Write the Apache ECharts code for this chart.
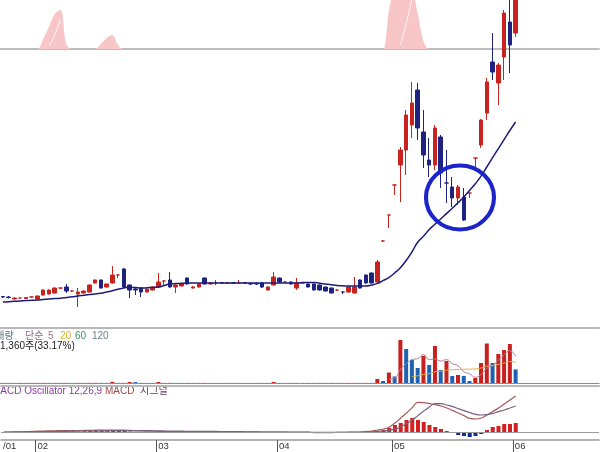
<!DOCTYPE html>
<html>
<head>
<meta charset="utf-8">
<script src="https://cdn.jsdelivr.net/npm/echarts@6.0.0/dist/echarts.min.js"></script>
<style>
html,body{margin:0;padding:0;background:#ffffff;overflow:hidden}
#chart{width:600px;height:452px}
</style>
</head>
<body>
<div id="chart"></div>
<script>
// ---------------- data ----------------
const monthLabels = ['/01', '02', '03', '04', '05', '06'];
const monthStart = [0, 6, 27, 48, 68, 89];
const slotCount = 104;
const categories = Array.from({length: slotCount}, (_, i) => 'D' + (i + 1));

const openP = [315,310,290,300,295,310,290,330,340,350,
 400,410,370,340,350,360,450,480,410,450,
 530,590,430,390,400,360,380,410,470,480,
 410,420,500,400,410,500,440,450,455,450,
 455,450,455,445,445,450,380,430,500,460,
 460,400,450,440,440,430,410,400,380,360,
 360,350,480,530,550,460,870,1130,1430,1630,
 1780,2030,2380,1960,1680,1630,1910,1450,1410,1300,
 1310,1350,1700,1830,2150,2660,2450,2710,3060,2950];
const closeP = [310,305,300,300,305,310,320,380,380,400,
 400,370,370,360,370,430,480,400,440,530,
 530,410,380,380,360,390,410,460,470,410,
 430,440,440,410,440,440,450,450,450,450,
 450,450,450,440,440,410,410,510,460,460,
 440,450,450,410,380,380,370,350,380,360,
 410,410,400,450,450,660,870,1130,1430,1780,
 2130,2250,2000,1730,1630,2000,1550,1450,1300,1410,
 1080,1350,1700,2080,2460,2560,2630,3150,2830,3330];
const lowP = [300,295,285,295,290,305,285,325,335,345,
 390,350,360,210,345,355,445,395,405,445,
 500,400,300,330,310,355,375,400,420,405,
 350,415,435,395,405,435,435,430,440,440,
 440,440,440,430,430,400,375,425,455,455,
 435,380,440,405,375,375,365,345,370,340,
 355,345,395,445,445,455,860,1000,1330,1260,
 1530,1900,1880,1600,1510,1580,1400,1250,1210,1230,
 1070,1300,1610,1800,2080,2480,2230,2480,2550,2910];
const highP = [320,320,305,305,310,315,325,385,385,405,
 402,440,375,400,375,435,485,485,445,620,
 540,600,435,400,405,395,415,550,480,560,
 435,445,505,420,445,505,455,480,460,460,
 460,480,460,450,455,455,415,560,505,470,
 465,500,455,445,445,435,415,405,390,362,
 415,510,485,535,555,680,880,1135,1435,1810,
 2180,2460,2450,2180,1900,2030,1930,1780,1510,1430,
 1400,1355,1705,2090,2500,2950,2650,3180,3300,3400];
const priceMA = [260,263,267,270,274,277,280,285,290,294,
 298,305,312,320,327,334,340,348,360,373,
 387,400,408,404,400,402,406,410,425,440,
 444,447,450,450,450,450,450,450,450,450,
 450,450,450,450,450,450,450,450,450,450,
 450,450,455,455,455,448,440,432,426,422,
 420,420,420,420,430,446,474,504,550,603,
 675,760,858,917,984,1037,1090,1144,1197,1252,
 1310,1375,1442,1518,1610,1703,1794,1884,1975,2060];

const volume = [10,8,8,12,8,10,12,14,10,12,
 10,12,8,14,10,14,16,12,10,120,
 12,14,100,90,12,10,8,100,12,14,
 10,8,12,8,10,12,8,6,6,8,
 6,8,6,6,8,10,8,100,12,8,
 10,12,8,8,10,12,10,12,8,8,
 12,14,12,14,12,400,200,1050,650,4300,
 3400,2300,1500,2700,1800,3700,1300,2200,700,800,
 700,200,500,2000,3950,2000,2900,3300,3900,1360];
const volMA5 = [null,null,null,null,null,null,null,null,null,null,
 null,null,null,null,null,null,null,null,null,null,
 null,null,null,null,null,null,null,null,null,null,
 null,null,null,null,null,null,null,null,null,null,
 null,null,null,null,null,null,null,null,null,null,
 null,null,null,null,null,null,null,null,null,null,
 null,null,null,null,null,null,null,372,480,1320,
 1920,2340,2440,2840,2340,2400,2200,2340,1940,1740,
 1140,920,580,840,1470,1730,2270,2830,3220,2690];
const volMA20 = [null,null,null,null,null,null,null,null,null,null,
 null,null,null,null,null,null,null,null,null,null,
 null,null,null,null,null,null,null,null,null,null,
 null,null,null,null,null,null,null,null,null,null,
 null,null,null,null,null,null,null,null,null,null,
 null,null,null,null,null,null,null,null,null,null,
 null,null,null,null,null,null,null,null,null,null,
 null,650,720,850,940,1120,1180,1290,1320,1350,
 1380,1385,1405,1500,1690,1770,1860,1990,2150,2060];

const macdHist = [0,0,1,1,2,2,3,4,5,5,
 5,4,4,3,4,5,6,6,7,8,
 8,6,3,-2,-3,-4,-4,-3,-3,-3,
 -2,-1,2,3,3,3,3,2,2,1,
 -1,-1,-2,-2,-2,-2,-2,-2,-2,-2,
 -2,-2,-2,-3,-3,-3,-4,-4,-4,-3,
 -3,-2,-1,1,3,5,10,20,35,45,
 60,70,60,50,35,25,15,5,-5,-15,
 -20,-25,-20,-10,10,25,30,40,40,45];
const macdLine = [0,0,1,1,2,3,4,5,6,6,
 7,7,7,7,8,8,9,9,10,10,
 10,9,8,6,5,4,4,3,3,2,
 2,2,2,2,2,2,2,2,1,1,
 1,0,0,0,-1,-1,-1,-1,-1,-1,
 -2,-2,-2,-2,-3,-3,-3,-3,-2,-2,
 -1,-1,0,2,5,10,15,25,45,70,
 95,122,148,147,142,137,130,120,108,95,
 82,68,65,70,85,102,120,140,160,180];
const signalLine = [0,0,0,0,0,1,1,2,2,3,
 3,4,4,5,5,5,6,6,6,7,
 7,7,7,7,7,7,6,6,5,5,
 4,4,3,3,3,3,3,3,2,2,
 2,2,1,1,1,0,0,0,0,-1,
 -1,-1,-1,-1,-2,-2,-2,-2,-2,-2,
 -2,-2,-1,0,1,3,5,8,14,25,
 42,60,82,105,125,142,142,135,127,117,
 107,97,88,85,87,93,102,110,120,130];

const topIndicator = [0,0,0,0,0,0,0,10,22,35,
 39,5,0,0,0,0,0,5,11,14,
 4,0,0,0,0,0,0,0,0,0,
 0,0,0,0,0,0,0,0,0,0,
 0,0,0,0,0,0,0,0,0,0,
 0,0,0,0,0,0,0,0,0,0,
 0,0,0,0,0,0,0,38,62,72,
 74,62,36,8,0,0,0,0,0,0,
 0,0,0,0,0,0,0,0,0,0];
const topInner = [null,null,null,null,null,null,null,null,3,14,
 30,null,null,null,null,null,null,null,null,null,
 null,null,null,null,null,null,null,null,null,null,
 null,null,null,null,null,null,null,null,null,null,
 null,null,null,null,null,null,null,null,null,null,
 null,null,null,null,null,null,null,null,null,null,
 null,null,null,null,null,null,null,null,null,4,
 25,50,80,null,null,null,null,null,null,null,
 null,null,null,null,null,null,null,null,null,null];

const circleIndex = 79;
const circlePrice = 1305;

// ---------------- chart ----------------
const chart = echarts.init(document.getElementById('chart'), null, {renderer: 'canvas'});
const candleData = openP.map((o, i) => [o, closeP[i], lowP[i], highP[i]]);
const volData = volume.map((v, i) => ({
  value: v,
  itemStyle: {color: (i === 0 || v >= volume[i - 1]) ? '#c8201e' : '#1f62b2'}
}));
const histData = macdHist.map(v => ({value: v, itemStyle: {color: v >= 0 ? '#d42020' : '#1428a0'}}));

const SLOT = 5.79;
const GL = -3.02, GW = slotCount * SLOT;
function xa(grid, line, extra) {
  return Object.assign({
    type: 'category', gridIndex: grid, data: categories, boundaryGap: true,
    axisLine: line ? {show: true, onZero: false, lineStyle: line} : {show: false},
    axisTick: {show: false}, axisLabel: {show: false}, splitLine: {show: false}
  }, extra || {});
}
function ya(grid, min, max) {
  return {type: 'value', gridIndex: grid, min: min, max: max, show: false, splitLine: {show: false}};
}
const FONT = '"Liberation Sans", "Noto Sans CJK KR", sans-serif';
function txt(x, y, text, color) {
  return {type: 'text', x: x, y: y, silent: true,
    style: {text: text, fill: color, font: '10px ' + FONT, verticalAlign: 'top'}};
}

chart.setOption({
  animation: false,
  backgroundColor: '#ffffff',
  grid: [
    {left: GL, width: GW, top: 0, height: 328},
    {left: GL, width: GW, top: 0, height: 49},
    {left: GL, width: GW, top: 330, height: 53},
    {left: GL, width: GW, top: 386, height: 54}
  ],
  xAxis: [
    xa(0, {color: '#b8b8b8', width: 2}),
    xa(1, {color: '#a8a8a8', width: 1.5}),
    xa(2, {color: '#8c8c8c', width: 1}),
    xa(3, {color: '#b8b8b8', width: 2}, {position: 'top'}),
    xa(3, {color: '#9a9a9a', width: 1.5}, {position: 'bottom'}),
    {
      type: 'value', gridIndex: 3, position: 'bottom', min: 0, max: slotCount,
      axisLine: {show: false, onZero: false}, splitLine: {show: false},
      axisTick: {show: true, customValues: monthStart.slice(1), length: 12,
        lineStyle: {color: '#555555', width: 1}},
      axisLabel: {show: true, customValues: monthStart,
        formatter: (v) => { const k = monthStart.indexOf(Math.round(v)); return k >= 0 ? monthLabels[k] : ''; },
        align: 'left', padding: [0, 0, 0, 2], margin: 2, fontSize: 9.5, fontFamily: FONT, color: '#333333',
        showMinLabel: true, showMaxLabel: true}
    }
  ],
  yAxis: [ya(0, 0, 3280), ya(1, 0, 49), ya(2, 0, 5300), ya(3, -40, 230)],
  graphic: [
    txt(-14, 331, '거래량', '#5f7480'),
    txt(25, 331, '단순', '#8a6a8a'),
    txt(48, 331, '5', '#a07890'),
    txt(60, 331, '20', '#d8b030'),
    txt(75, 331, '60', '#3a9060'),
    txt(92, 331, '120', '#6a8090'),
    txt(0, 341, '1,360주(33.17%)', '#222222'),
    txt(-8, 386, 'MACD Oscillator 12,26,9', '#8a3aa0'),
    txt(105, 386, 'MACD', '#a04848'),
    txt(140, 386, '시그널', '#5a3a6a')
  ],
  series: [
    {type: 'line', xAxisIndex: 1, yAxisIndex: 1, data: topIndicator, symbol: 'none', smooth: 0.35,
      lineStyle: {width: 0}, areaStyle: {color: '#f8c6c6', opacity: 1}, z: 1, silent: true},
    {type: 'line', xAxisIndex: 1, yAxisIndex: 1, data: topInner, symbol: 'none', smooth: true,
      lineStyle: {width: 1, color: 'rgba(255,255,255,0.85)'}, z: 2, silent: true},
    {type: 'candlestick', xAxisIndex: 0, yAxisIndex: 0, data: candleData, barWidth: 4, clip: true,
      itemStyle: {color: '#c8231e', color0: '#1e2382', borderColor: '#c8231e', borderColor0: '#1e2382', borderWidth: 1},
      z: 3,
      markPoint: {silent: true, symbol: 'circle', symbolSize: [68, 64], symbolOffset: [2, 0],
        itemStyle: {color: 'rgba(0,0,0,0)', borderColor: '#1a24c8', borderWidth: 4},
        label: {show: false},
        data: [{coord: [categories[circleIndex], circlePrice]}]}
    },
    {type: 'line', xAxisIndex: 0, yAxisIndex: 0, data: priceMA, symbol: 'none', smooth: true,
      lineStyle: {color: '#1c1c78', width: 1.5}, z: 4, silent: true},
    {type: 'bar', xAxisIndex: 2, yAxisIndex: 2, data: volData, barWidth: 4, z: 3, silent: true},
    {type: 'line', xAxisIndex: 2, yAxisIndex: 2, data: volMA5, symbol: 'none', smooth: true,
      lineStyle: {color: '#b07f95', width: 1}, z: 4, silent: true},
    {type: 'line', xAxisIndex: 2, yAxisIndex: 2, data: volMA20, symbol: 'none', smooth: true,
      lineStyle: {color: '#e0b040', width: 1}, z: 4, silent: true},
    {type: 'bar', xAxisIndex: 4, yAxisIndex: 3, data: histData, barWidth: 4, z: 3, silent: true,
      markLine: {silent: true, symbol: ['none', 'none'], label: {show: false},
        lineStyle: {color: '#9a9a9a', width: 1, type: 'solid'}, data: [{yAxis: 0}]}},
    {type: 'line', xAxisIndex: 4, yAxisIndex: 3, data: macdLine, symbol: 'none', smooth: true,
      lineStyle: {color: '#a45a5a', width: 1.2}, z: 4, silent: true},
    {type: 'line', xAxisIndex: 4, yAxisIndex: 3, data: signalLine, symbol: 'none', smooth: true,
      lineStyle: {color: '#7a6280', width: 1.2}, z: 4, silent: true}
  ]
});
</script>
</body>
</html>
